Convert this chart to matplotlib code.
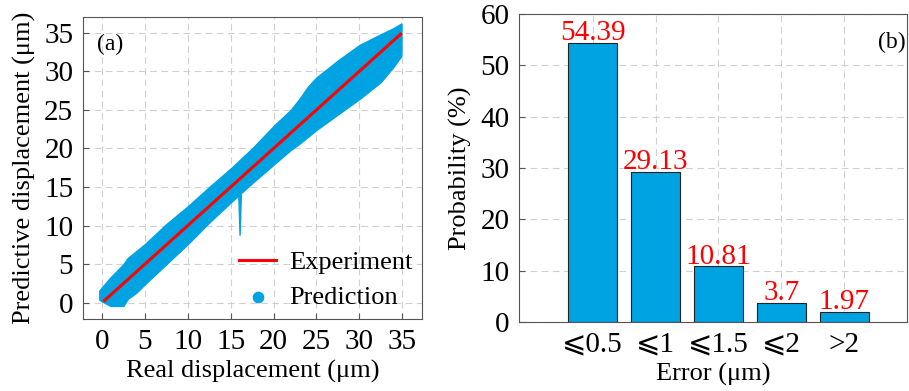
import matplotlib.pyplot as plt
import numpy as np

plt.rcParams['font.family'] = ['Liberation Serif', 'DejaVu Sans']

# (a) prediction cloud, upper / lower envelope
band_x = [-0.3, 0.0, 1.0, 2.5, 3.0, 4.0, 5.0, 7.5, 10.0, 12.5, 15.0, 17.5, 20.0, 22.0, 23.0,
          24.0, 25.0, 27.5, 30.0, 32.5, 34.0, 34.9]
band_hi = [1.6, 2.0, 3.3, 5.0, 5.8, 6.7, 7.6, 10.2, 12.5, 15.0, 17.4, 20.0, 22.9, 25.0, 26.4,
           28.0, 29.2, 31.4, 33.4, 34.8, 35.6, 36.2]
band_lo = [0.4, 0.2, -0.4, -0.4, 0.5, 1.3, 2.4, 5.0, 7.6, 10.4, 13.0, 15.5, 17.9, 19.8, 20.6,
           21.5, 22.4, 24.4, 26.4, 28.6, 30.6, 32.0]
spike_x = [15.95, 16.1, 16.25]
spike_y = [14.0, 8.7, 14.0]
exp_x = [0.3, 34.8]
exp_y = [0.3, 34.8]

# (b) error distribution
err_labels = ['⩽0.5', '⩽1', '⩽1.5', '⩽2', '>2']
err_prob = [54.39, 29.13, 10.81, 3.7, 1.97]
err_text = ['54.39', '29.13', '10.81', '3.7', '1.97']

blue = '#00A3E2'
fs = 19
tfs = 21

fig = plt.figure(figsize=(9.09, 3.91), dpi=100)

ax1 = fig.add_axes([0.0913, 0.184, 0.373, 0.772])
ax1.fill_between(band_x, band_lo, band_hi, color=blue, lw=1.0, edgecolor=blue, zorder=2)
ax1.fill(spike_x, spike_y, color=blue, lw=1.0, edgecolor=blue, zorder=2)
ax1.plot(exp_x, exp_y, color='red', lw=2.2, zorder=3, label='Experiment')
ax1.scatter([], [], s=55, color=blue, label='Prediction')
ax1.set_xlim(-2.2, 37.3)
ax1.set_ylim(-2.1, 37)
ax1.set_xticks(np.arange(0, 36, 5))
ax1.set_yticks(np.arange(0, 36, 5))
ax1.grid(True, ls=(0, (6, 4)), color='#d0d0d0', lw=0.8)
ax1.set_axisbelow(True)
ax1.tick_params(direction='in', labelsize=tfs, length=4, color='#555555', pad=7)
ax1.set_xlabel('Real displacement (μm)', fontsize=fs, labelpad=4)
ax1.set_ylabel('Predictive displacement (μm)', fontsize=fs, labelpad=6)
ax1.text(0.04, 0.89, '(a)', transform=ax1.transAxes, fontsize=17)
ax1.legend(loc='lower right', frameon=False, fontsize=19, handlelength=1.4,
           handletextpad=0.5, borderaxespad=0.2, labelspacing=0.45,
           bbox_to_anchor=(1.02, -0.02))
for s in ax1.spines.values():
    s.set_color('#555555')

ax2 = fig.add_axes([0.571, 0.1765, 0.427, 0.788])
pos = np.arange(1, len(err_prob) + 1)
bars = ax2.bar(pos, err_prob, width=0.78, color=blue, edgecolor='#222222', lw=0.8, zorder=2)
for b, t in zip(bars, err_text):
    ax2.text(b.get_x() + b.get_width() / 2, b.get_height() - 0.6, t,
             ha='center', va='bottom', color='red', fontsize=tfs)
ax2.set_xlim(-0.17, 6.0)
ax2.set_ylim(0, 60)
ax2.set_xticks(pos)
ax2.set_xticklabels(err_labels)
ax2.set_yticks(np.arange(0, 61, 10))
ax2.grid(True, ls=(0, (6, 4)), color='#d0d0d0', lw=0.8)
ax2.set_axisbelow(True)
ax2.tick_params(direction='in', labelsize=tfs, length=4, color='#555555', pad=7)
ax2.set_xlabel('Error (μm)', fontsize=fs, labelpad=4)
ax2.set_ylabel('Probability (%)', fontsize=fs, labelpad=6)
ax2.text(0.925, 0.89, '(b)', transform=ax2.transAxes, fontsize=17)
for s in ax2.spines.values():
    s.set_color('#555555')

fig.savefig('out.png', dpi=100)
